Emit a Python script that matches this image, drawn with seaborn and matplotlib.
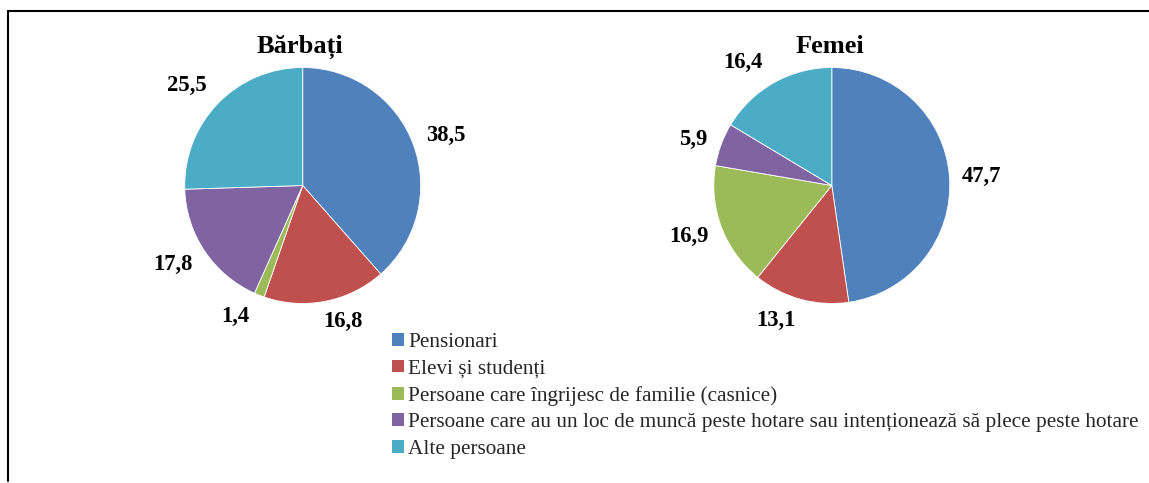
import matplotlib
matplotlib.use("Agg")
import matplotlib.pyplot as plt
import matplotlib.patches as mpatches
from matplotlib.lines import Line2D
import seaborn as sns

# ── date ────────────────────────────────────────────
CATEGORII = [
    "Pensionari",
    "Elevi și studenți",
    "Persoane care îngrijesc de familie (casnice)",
    "Persoane care au un loc de muncă peste hotare sau intenționează să plece peste hotare",
    "Alte persoane",
]
BARBATI = [38.5, 16.8, 1.4, 17.8, 25.5]
FEMEI = [47.7, 13.1, 16.9, 5.9, 16.4]
CULORI = ["#4F81BD", "#C0504D", "#9BBB59", "#8064A2", "#4BACC6"]

# pozitia etichetelor (in unitati de raza, fata de centrul cercului)
POZ_B = [(1.21, 0.42), (0.34, -1.15), (-0.57, -1.11), (-1.10, -0.67), (-0.98, 0.85)]
POZ_F = [(1.27, 0.075), (-0.47, -1.14), (-1.21, -0.43), (-1.17, 0.39), (-0.75, 1.04)]

W, H = 1149, 483
R_PX = 118
L = 1.6

sns.set_style("white")
plt.rcParams["font.family"] = ["Liberation Serif", "DejaVu Serif"]
palette = sns.color_palette(CULORI)

fig = plt.figure(figsize=(W / 100, H / 100), dpi=100)


def pie_axes(cx, cy):
    side = 2 * L * R_PX
    ax = fig.add_axes([(cx - side / 2) / W, (H - cy - side / 2) / H, side / W, side / H])
    return ax


def draw_pie(ax, values, positions, title):
    ax.pie(values, colors=palette, startangle=90, counterclock=False, radius=1,
           wedgeprops=dict(edgecolor="white", linewidth=0.6))
    ax.set_xlim(-L, L)
    ax.set_ylim(-L, L)
    ax.set_aspect("equal")
    ax.axis("off")
    for v, (x, y) in zip(values, positions):
        ax.text(x, y, f"{v:.1f}".replace(".", ","), ha="center", va="center",
                fontsize=16.3, fontweight="bold", color="black", clip_on=False)
    ax.text(-0.02, 1.125, title, ha="center", va="baseline",
            fontsize=19, fontweight="bold", color="black", clip_on=False)


draw_pie(pie_axes(302.7, 185.5), BARBATI, POZ_B, "Bărbați")
draw_pie(pie_axes(831.8, 185.5), FEMEI, POZ_F, "Femei")

handles = [mpatches.Patch(facecolor=c, edgecolor="none", label=lab)
           for c, lab in zip(palette, CATEGORII)]
fig.legend(handles=handles, loc="upper left", bbox_to_anchor=(392 / W, 1 - 333 / H),
           frameon=False, fontsize=15.3, borderpad=0, borderaxespad=0,
           handlelength=0.55, handleheight=0.55, handletextpad=0.2, labelspacing=0.35)

# chenarul
fig.add_artist(Line2D([8 / W, 1], [1 - 11 / H, 1 - 11 / H], color="black", lw=1.5,
                      transform=fig.transFigure))
fig.add_artist(Line2D([8 / W, 8 / W], [1 - 11 / H, 1 - 481 / H], color="black", lw=1.5,
                      transform=fig.transFigure))

fig.savefig("out.png", dpi=100, facecolor="white")
